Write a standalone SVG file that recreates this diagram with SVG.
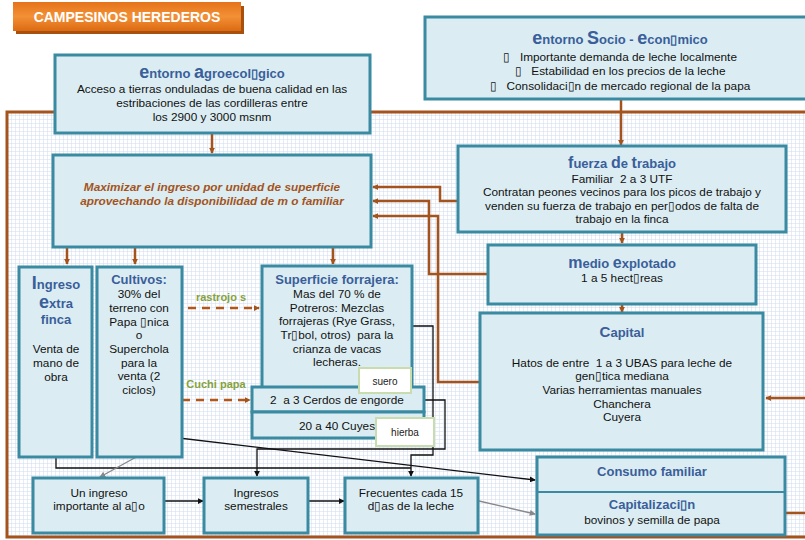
<svg xmlns="http://www.w3.org/2000/svg" width="805" height="540" viewBox="0 0 805 540">
<defs>
<pattern id="grid" width="4" height="4" patternUnits="userSpaceOnUse">
<rect width="4" height="4" fill="#ffffff"/>
<path d="M4 0V4M0 4H4" stroke="#d0dcee" stroke-width="1" fill="none"/>
</pattern>
<linearGradient id="og" x1="0" y1="0" x2="0" y2="1">
<stop offset="0" stop-color="#e5731a"/>
<stop offset="0.5" stop-color="#f39036"/>
<stop offset="1" stop-color="#dc6a12"/>
</linearGradient>
<marker id="ab" viewBox="0 0 8 8" refX="7" refY="4" markerWidth="6" markerHeight="6" orient="auto" markerUnits="userSpaceOnUse">
<path d="M0 0L8 4L0 8z" fill="#a4531c"/>
</marker>
<marker id="ak" viewBox="0 0 8 8" refX="7" refY="4" markerWidth="6" markerHeight="6" orient="auto" markerUnits="userSpaceOnUse">
<path d="M0 0L8 4L0 8z" fill="#111"/>
</marker>
<marker id="ag" viewBox="0 0 8 8" refX="7" refY="4" markerWidth="6" markerHeight="6" orient="auto" markerUnits="userSpaceOnUse">
<path d="M0 0L8 4L0 8z" fill="#888"/>
</marker>
</defs>
<style>
text{white-space:pre}
.box{fill:#dbedf3;stroke:#3a8aa2;stroke-width:3}
.t{font-family:"Liberation Sans",Arial,sans-serif;font-size:11.8px;fill:#111;text-anchor:middle}
.h{font-family:"Liberation Sans",Arial,sans-serif;font-weight:bold;font-size:13px;fill:#3a5e9a;text-anchor:middle}
.big{font-size:18px}
.br{fill:none;stroke:#a4531c;stroke-width:2.5}
.bk{fill:none;stroke:#111;stroke-width:1.3}
.gr{fill:none;stroke:#888;stroke-width:1.3}
.dash{fill:none;stroke:#b4561a;stroke-width:2.5;stroke-dasharray:8 6}
.lbl{font-family:"Liberation Sans",Arial,sans-serif;font-weight:bold;font-size:11px;fill:#86a23c;text-anchor:middle}
.wb{fill:#ffffff;stroke:#c8dcae;stroke-width:2}
.st{font-family:"Liberation Sans",Arial,sans-serif;font-size:10px;fill:#222;text-anchor:middle}
</style>
<rect width="805" height="540" fill="#ffffff"/>
<!-- frame -->
<rect x="7" y="112" width="805" height="425" fill="url(#grid)" stroke="#a4531c" stroke-width="3"/>
<g id="title">
<rect x="16" y="6" width="228" height="28" fill="#a8500f"/>
<rect x="13" y="2" width="228" height="29" fill="url(#og)"/>
<text x="127" y="22" font-family="'Liberation Sans',Arial,sans-serif" font-weight="bold" font-size="14px" fill="#ffffff" text-anchor="middle">CAMPESINOS HEREDEROS</text>
</g>
<g id="connectors">
<line class="br" x1="212" y1="134" x2="212" y2="153" marker-end="url(#ab)"/>
<line class="br" x1="621" y1="100" x2="621" y2="145" marker-end="url(#ab)"/>
<line class="br" x1="622" y1="233" x2="622" y2="243" marker-end="url(#ab)"/>
<line class="br" x1="622" y1="305" x2="622" y2="312" marker-end="url(#ab)"/>
<polyline class="br" points="458,201 440,201 440,187 373,187" marker-end="url(#ab)"/>
<polyline class="br" points="488,274 429,274 429,201 373,201" marker-end="url(#ab)"/>
<polyline class="br" points="480,382 438,382 438,216 373,216" marker-end="url(#ab)"/>
<line class="br" x1="67" y1="248" x2="67" y2="264" marker-end="url(#ab)"/>
<line class="br" x1="135" y1="248" x2="135" y2="264" marker-end="url(#ab)"/>
<line class="br" x1="333" y1="248" x2="333" y2="264" marker-end="url(#ab)"/>
<line class="br" x1="808" y1="398" x2="766" y2="398" marker-end="url(#ab)"/>
<line class="br" x1="786" y1="513" x2="808" y2="513"/>
<line class="dash" x1="188" y1="308" x2="259" y2="308" marker-end="url(#ab)"/>
<line class="dash" x1="182" y1="400" x2="250" y2="400" marker-end="url(#ab)"/>
<polyline class="bk" points="412,326 433,326 433,455 411,455 411,476" marker-end="url(#ak)"/>
<polyline class="bk" points="424,400 445,400 445,449 257,449 257,476" marker-end="url(#ak)"/>
<polyline class="bk" points="56,458 56,468 411,468"/>
<line class="bk" x1="162" y1="436" x2="535" y2="480" marker-end="url(#ak)"/>
<line class="gr" x1="138" y1="456" x2="100" y2="477" marker-end="url(#ag)"/>
<line class="gr" x1="479" y1="501" x2="535" y2="514" marker-end="url(#ag)"/>
<line class="bk" x1="165" y1="501" x2="203" y2="501" marker-end="url(#ak)"/>
<line class="bk" x1="309" y1="501" x2="344" y2="501" marker-end="url(#ak)"/>
</g>
<g id="agro">
<rect class="box" x="55" y="55" width="315" height="78"/>
<text class="h" x="212" y="78"><tspan class="big">e</tspan>ntorno <tspan class="big">a</tspan>groecol▯gico</text>
<text class="t" x="212" y="93">Acceso a tierras onduladas de buena calidad en las</text>
<text class="t" x="212" y="107">estribaciones de las cordilleras entre</text>
<text class="t" x="212" y="121">los 2900 y 3000 msnm</text>
</g>
<g id="socio">
<rect class="box" x="425" y="17" width="385" height="82"/>
<text class="h" x="620" y="44"><tspan class="big">e</tspan>ntorno <tspan class="big">S</tspan>ocio - <tspan class="big">e</tspan>con▯mico</text>
<text class="t" x="620" y="61">▯   Importante demanda de leche localmente</text>
<text class="t" x="620" y="75">▯   Estabilidad en los precios de la leche</text>
<text class="t" x="620" y="90">▯   Consolidaci▯n de mercado regional de la papa</text>
</g>
<g id="maximizar">
<rect class="box" x="53" y="155" width="318" height="92"/>
<text x="212" y="191" font-family="'Liberation Sans',Arial,sans-serif" font-weight="bold" font-style="italic" font-size="11.8px" fill="#a4531c" text-anchor="middle">Maximizar el ingreso por unidad de superficie</text>
<text x="212" y="205" font-family="'Liberation Sans',Arial,sans-serif" font-weight="bold" font-style="italic" font-size="11.8px" fill="#a4531c" text-anchor="middle">aprovechando la disponibilidad de m o familiar</text>
</g>
<g id="fuerza">
<rect class="box" x="458" y="146" width="328" height="86"/>
<text class="h" x="622" y="168"><tspan font-size="16px">f</tspan>uerza <tspan font-size="16px">d</tspan>e <tspan font-size="16px">t</tspan>rabajo</text>
<text class="t" x="622" y="183">Familiar  2 a 3 UTF</text>
<text class="t" x="622" y="196">Contratan peones vecinos para los picos de trabajo y</text>
<text class="t" x="622" y="210">venden su fuerza de trabajo en per▯odos de falta de</text>
<text class="t" x="622" y="223">trabajo en la finca</text>
</g>
<g id="medio">
<rect class="box" x="488" y="245" width="268" height="59"/>
<text class="h" x="622" y="268"><tspan font-size="16px">m</tspan>edio <tspan font-size="16px">e</tspan>xplotado</text>
<text class="t" x="622" y="282">1 a 5 hect▯reas</text>
</g>
<g id="capital">
<rect class="box" x="480" y="313" width="283" height="137"/>
<text class="h" x="622" y="337"><tspan font-size="15px">C</tspan>apital</text>
<text class="t" x="622" y="367">Hatos de entre  1 a 3 UBAS para leche de</text>
<text class="t" x="622" y="380">gen▯tica mediana</text>
<text class="t" x="622" y="394">Varias herramientas manuales</text>
<text class="t" x="622" y="408">Chanchera</text>
<text class="t" x="622" y="421">Cuyera</text>
</g>
<g id="ingreso-extra">
<rect class="box" x="19" y="267" width="73" height="190"/>
<text class="h" x="56" y="289" font-size="14px"><tspan font-size="18px">I</tspan>ngreso</text>
<text class="h" x="56" y="308" font-size="14px"><tspan font-size="18px">e</tspan>xtra</text>
<text class="h" x="56" y="324" font-size="14px">finca</text>
<text class="t" x="56" y="353">Venta de</text>
<text class="t" x="56" y="367">mano de</text>
<text class="t" x="56" y="381">obra</text>
</g>
<g id="cultivos">
<rect class="box" x="97" y="267" width="85" height="190"/>
<text class="h" x="139" y="284">Cultivos:</text>
<text class="t" x="139" y="298">30% del</text>
<text class="t" x="139" y="312">terreno con</text>
<text class="t" x="139" y="326">Papa ▯nica</text>
<text class="t" x="139" y="339">o</text>
<text class="t" x="139" y="353">Superchola</text>
<text class="t" x="139" y="367">para la</text>
<text class="t" x="139" y="380">venta (2</text>
<text class="t" x="139" y="394">ciclos)</text>
</g>
<g id="superficie">
<rect class="box" x="262" y="266" width="150" height="122"/>
<text class="h" x="337" y="284">Superficie forrajera:</text>
<text class="t" x="337" y="298">Mas del 70 % de</text>
<text class="t" x="337" y="312">Potreros: Mezclas</text>
<text class="t" x="337" y="325">forrajeras (Rye Grass,</text>
<text class="t" x="337" y="339">Tr▯bol, otros)  para la</text>
<text class="t" x="337" y="353">crianza de vacas</text>
<text class="t" x="337" y="366">lecheras.</text>
</g>
<g id="cerdos">
<rect class="box" x="252" y="387" width="172" height="25"/>
<text class="t" x="337" y="404">2  a 3 Cerdos de engorde</text>
</g>
<g id="cuyes">
<rect class="box" x="252" y="412" width="172" height="26"/>
<text class="t" x="337" y="430">20 a 40 Cuyes</text>
</g>
<g id="labels">
<text class="lbl" x="221" y="301">rastrojo s</text>
<text class="lbl" x="216" y="388">Cuchi papa</text>
<rect class="wb" x="359" y="368" width="52" height="25"/>
<text class="st" x="385" y="385">suero</text>
<rect class="wb" x="376" y="418" width="58" height="28"/>
<text class="st" x="405" y="436">hierba</text>
</g>
<g id="un-ingreso">
<rect class="box" x="33" y="478" width="131" height="55"/>
<text class="t" x="99" y="497">Un ingreso</text>
<text class="t" x="99" y="510">importante al a▯o</text>
</g>
<g id="semestrales">
<rect class="box" x="204" y="478" width="104" height="55"/>
<text class="t" x="256" y="497">Ingresos</text>
<text class="t" x="256" y="510">semestrales</text>
</g>
<g id="frecuentes">
<rect class="box" x="345" y="478" width="133" height="55"/>
<text class="t" x="411" y="497">Frecuentes cada 15</text>
<text class="t" x="411" y="510">d▯as de la leche</text>
</g>
<g id="consumo">
<rect class="box" x="537" y="457" width="248" height="78"/>
<line x1="537" y1="492" x2="785" y2="492" stroke="#3a8aa2" stroke-width="2"/>
<text class="h" x="652" y="476">Consumo familiar</text>
<text class="h" x="652" y="509">Capitalizaci▯n</text>
<text class="t" x="652" y="524">bovinos y semilla de papa</text>
</g>
</svg>
